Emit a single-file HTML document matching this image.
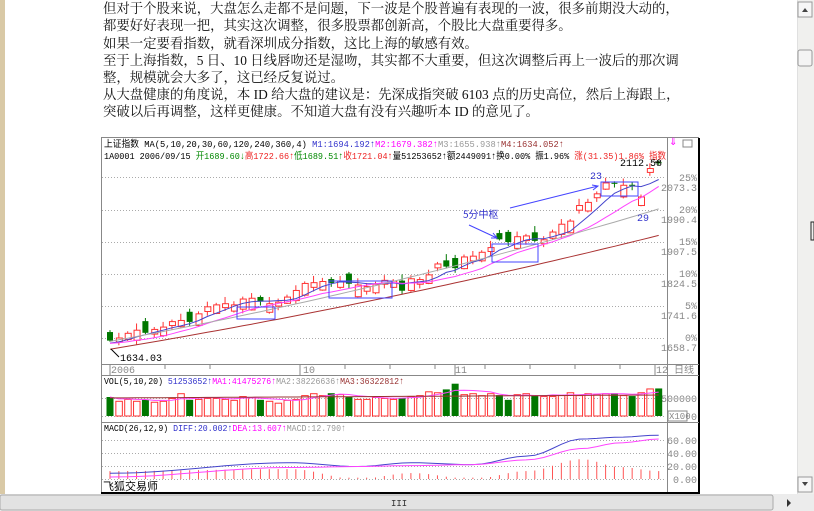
<!DOCTYPE html>
<html><head><meta charset="utf-8"><style>
html,body{margin:0;padding:0;width:814px;height:511px;overflow:hidden;background:#fff;position:relative}
#strip{position:absolute;left:0;top:0;width:5px;height:494px;background:#d9c9a6}
#txt{position:absolute;left:103px;top:-17px;font-family:"Liberation Serif","Noto Serif CJK SC","Noto Sans CJK SC",serif;font-size:13.4px;line-height:17.2px;color:#111;white-space:nowrap}
#vs{position:absolute;left:797px;top:0;width:17px;height:494px;background:#f0f0ee;border-left:1px solid #e0e0e0}
#hs{position:absolute;left:0;top:494px;width:814px;height:17px;background:#ececec}
svg{position:absolute;left:0;top:0}
</style></head><body>
<div id="strip"></div>
<div id="txt">
<div>这样的调整一样可以接受，就是当作一个正常的调整来看待，这一点也不奇怪。</div>
<div>但对于个股来说，大盘怎么走都不是问题，下一波是个股普遍有表现的一波，很多前期没大动的，</div>
<div>都要好好表现一把，其实这次调整，很多股票都创新高，个股比大盘重要得多。</div>
<div>如果一定要看指数，就看深圳成分指数，这比上海的敏感有效。</div>
<div>至于上海指数，5 日、10 日线唇吻还是湿吻，其实都不大重要，但这次调整后再上一波后的那次调</div>
<div>整，规模就会大多了，这已经反复说过。</div>
<div>从大盘健康的角度说，本 ID 给大盘的建议是：先深成指突破 6103 点的历史高位，然后上海跟上，</div>
<div>突破以后再调整，这样更健康。不知道大盘有没有兴趣听本 ID 的意见了。</div>
</div>
<div id="vs"></div>
<div id="hs"></div>
<svg id="s" width="814" height="511" xmlns="http://www.w3.org/2000/svg" font-family="'Liberation Mono','Noto Sans CJK SC',monospace" font-size="10">
<rect x="798" y="2" width="14" height="15" fill="#f6f6f6" stroke="#999"/>
<path d="M802 12 L805 8 L808 12Z" fill="#444"/>
<rect x="798" y="50" width="14" height="16" fill="#f4f4f4" stroke="#999" rx="2"/>
<rect x="798" y="477" width="14" height="15" fill="#f6f6f6" stroke="#999"/>
<path d="M802 482 L805 486 L808 482Z" fill="#444"/>
<rect x="811" y="222" width="3" height="18" fill="none" stroke="#222"/>
<rect x="0" y="495" width="773" height="15" fill="#e2e2e2" stroke="#aaa" rx="2"/>
<text x="391" y="506" font-size="9" fill="#333">III</text>
<path d="M787 499 L791 503 L787 507Z" fill="#333"/>
<rect x="101.5" y="137.5" width="597" height="355" fill="#fff" stroke="#888"/>
<line x1="101" y1="493" x2="699" y2="493" stroke="#000" stroke-width="2"/>
<line x1="699" y1="138" x2="699" y2="494" stroke="#000" stroke-width="2"/>
<line x1="667.5" y1="138" x2="667.5" y2="492" stroke="#888"/>
<line x1="101" y1="364.5" x2="699" y2="364.5" stroke="#888"/>
<line x1="101" y1="375.5" x2="699" y2="375.5" stroke="#888"/>
<line x1="101" y1="422.5" x2="699" y2="422.5" stroke="#888"/>
<g id="grid" stroke="#aaa" stroke-dasharray="1,2"></g>
<text x="104" y="147" fill="#000" font-size="9.5" textLength="460" lengthAdjust="spacingAndGlyphs">上证指数 MA(5,10,20,30,60,120,240,360,4) <tspan fill="#33c">M1:1694.192↑</tspan><tspan fill="#f0f">M2:1679.382↑</tspan><tspan fill="#999">M3:1655.938↑</tspan><tspan fill="#933">M4:1634.052↑</tspan></text>
<text x="104" y="159" fill="#000" font-size="9.5" textLength="562" lengthAdjust="spacingAndGlyphs">1A0001 2006/09/15 <tspan fill="#080">开1689.60↓</tspan><tspan fill="#e22">高1722.66↑</tspan><tspan fill="#080">低1689.51↑</tspan><tspan fill="#e22">收1721.04↑</tspan>量51253652↑额2449091↑换0.00% 振1.96% <tspan fill="#e22">涨(31.35)1.86% 指数</tspan></text>
<text x="669" y="145" fill="#f0f">⇓</text><rect x="683" y="140" width="9" height="7" fill="none" stroke="#888"/>
<g fill="#888" text-anchor="end" font-size="10">
<text x="697" y="181">25%</text><text x="697" y="191">2073.3</text>
<text x="697" y="213">20%</text><text x="697" y="223">1990.4</text>
<text x="697" y="245">15%</text><text x="697" y="255">1907.5</text>
<text x="697" y="277">10%</text><text x="697" y="287">1824.5</text>
<text x="697" y="309">5%</text><text x="697" y="319">1741.6</text>
<text x="697" y="341">0%</text><text x="697" y="351">1658.7</text>
<text x="697" y="402">500000</text><text x="697" y="420">0</text>
<text x="697" y="444">60.00</text><text x="697" y="457">40.00</text><text x="697" y="470">20.00</text><text x="697" y="483">0.00</text>
</g>
<rect x="668" y="411" width="19" height="10" fill="none" stroke="#888"/>
<text x="669" y="419" fill="#888" font-size="9">X100</text>
<g fill="#888" font-size="10"><text x="111" y="373">2006</text><text x="303" y="373">10</text><text x="455" y="373">11</text><text x="656" y="373">12</text><text x="674" y="373">日线</text></g>
<g stroke="#888"><line x1="110" y1="365" x2="110" y2="375"/><line x1="165" y1="365" x2="165" y2="369"/><line x1="210" y1="365" x2="210" y2="369"/><line x1="300" y1="365" x2="300" y2="375"/><line x1="345" y1="365" x2="345" y2="369"/><line x1="390" y1="365" x2="390" y2="369"/><line x1="435" y1="365" x2="435" y2="369"/><line x1="455" y1="365" x2="455" y2="375"/><line x1="485" y1="365" x2="485" y2="369"/><line x1="530" y1="365" x2="530" y2="369"/><line x1="575" y1="365" x2="575" y2="369"/><line x1="620" y1="365" x2="620" y2="369"/><line x1="655" y1="365" x2="655" y2="375"/></g>
<text x="104" y="384" fill="#000" font-size="9.5" textLength="300" lengthAdjust="spacingAndGlyphs">VOL(5,10,20) <tspan fill="#33c">51253652↑</tspan><tspan fill="#f0f">MA1:41475276↑</tspan><tspan fill="#999">MA2:38226636↑</tspan><tspan fill="#933">MA3:36322812↑</tspan></text>
<text x="104" y="431" fill="#000" font-size="9.5" textLength="242" lengthAdjust="spacingAndGlyphs">MACD(26,12,9) <tspan fill="#33c">DIFF:20.002↑</tspan><tspan fill="#f0f">DEA:13.607↑</tspan><tspan fill="#999">MACD:12.790↑</tspan></text>
<g id="plot"></g>
<text x="103" y="490" fill="#000" font-size="11" font-family="'Noto Sans CJK SC',sans-serif">飞狐交易师</text>
<g fill="none" stroke="#44f">
<rect x="237" y="307" width="38" height="12"/>
<rect x="329" y="281" width="63" height="17"/>
<rect x="492" y="244" width="46" height="18"/>
<rect x="601" y="182" width="37" height="14"/>
<path d="M469 225 L497 238 M491 238 L497 238 L493 233"/>
<path d="M510 208 L598 186 M592 185 L598 186 L593 190"/>
</g>
<text x="463" y="218" fill="#33c" font-size="10" font-family="'Noto Sans CJK SC',sans-serif">5分中枢</text>
<text x="590" y="179" fill="#33c">23</text>
<text x="637" y="221" fill="#33c">29</text>
<text x="620" y="166" fill="#000">2112.58</text>
<line x1="655" y1="162" x2="660" y2="162" stroke="#000"/>
<text x="120" y="361" fill="#000">1634.03</text>
<line x1="111" y1="349" x2="119" y2="357" stroke="#000"/>
</svg>
<script>
var NS="http://www.w3.org/2000/svg";
function el(t,a,p){var e=document.createElementNS(NS,t);for(var k in a)e.setAttribute(k,a[k]);(p||document.getElementById('plot')).appendChild(e);return e;}
var g=document.getElementById('grid');
[177,210,242,274,306,338].forEach(function(y){el('line',{x1:102,y1:y+.5,x2:666,y2:y+.5},g)});
[398,416].forEach(function(y){el('line',{x1:102,y1:y+.5,x2:666,y2:y+.5},g)});
[440,453,466,479].forEach(function(y){el('line',{x1:102,y1:y+.5,x2:666,y2:y+.5},g)});
function Y(p){return 338-(p-1658.7)*0.3896;}
var C=[1652,1660,1672,1680,1672,1682,1688,1702,1705,1700,1722,1740,1745,1748,1745,1760,1762,1752,1748,1752,1765,1782,1800,1802,1805,1800,1806,1798,1796,1792,1798,1808,1806,1780,1812,1810,1822,1850,1842,1838,1868,1870,1880,1892,1912,1905,1920,1922,1908,1912,1932,1952,1960,2000,2008,2030,2058,2055,2052,2050,2022,2095,2108];
var G={0:1,4:1,9:1,17:1,25:1,27:1,33:1,38:1,39:1,44:1,45:1,48:1,57:1,59:1,62:1};
var N=C.length,dx=8.85,x0=110;
var V=[20,16,18,16,17,15,16,19,24,17,18,19,19,18,17,21,20,17,16,14,17,18,22,24,22,24,23,20,18,18,20,19,18,19,21,22,26,25,28,34,23,24,22,24,22,17,23,24,22,21,21,22,25,22,24,23,24,24,22,21,25,29,29];
for(var i=0;i<N;i++){
 var x=x0+i*dx,c=C[i],gr=G[i],o;
 var body=[22,10,16,26,30,12][i%6];
 if(i==57||i==59||i==62){o=c+2;} else o=gr?c+body:c-body;
 var hi=Math.max(o,c)+[5,12,4,16,8][i%5],lo=Math.min(o,c)-[3,10,5,12][i%4];
 var col=gr?'#070':'#f33';
 el('line',{x1:x,y1:Y(hi),x2:x,y2:Y(lo),stroke:col});
 var yt=Y(Math.max(o,c)),yb=Y(Math.min(o,c));var h=Math.max(1,yb-yt);
 if(gr)el('rect',{x:x-3,y:yt,width:6,height:h,fill:col});
 else el('rect',{x:x-2.5,y:yt+.5,width:6,height:h,fill:'#fff',stroke:col});
 var vh=V[i]*0.95;
 if(gr)el('rect',{x:x-3.5,y:416-vh,width:7,height:vh,fill:'#070'});
 else el('rect',{x:x-3,y:416-vh+.5,width:6.5,height:vh-.5,fill:'none',stroke:'#f33'});
}
function ma(n){var r=[];for(var i=0;i<N;i++){var s=0,k=0;for(var j=Math.max(0,i-n+1);j<=i;j++){s+=C[j];k++;}var pad=n-k;s+=pad*(C[0]-8);r.push(s/n);}return r;}
function pl(arr,col,fn){var d='';arr.forEach(function(v,i){d+=(i?'L':'M')+(x0+i*dx).toFixed(1)+' '+fn(v).toFixed(1)});el('path',{d:d,fill:'none',stroke:col});}
pl(ma(5),'#44c',Y);pl(ma(10),'#f4f',Y);
var g30=[],b60=[];for(var i=0;i<N;i++){var t=i/(N-1);g30.push(1650+(1990-1650)*(0.75*t+0.25*t*t));b60.push(1630+(1922-1630)*(0.8*t+0.2*t*t));}
pl(g30,'#aaa',Y);pl(b60,'#a33',Y);
var vm=V.map(function(v,i){var s=0,k=0;for(var j=Math.max(0,i-4);j<=i;j++){s+=V[j];k++;}return s/k;});
pl(vm,'#f4f',function(v){return 416-v*0.95});
pl(V.map(function(v,i){return 19+i*0.05}),'#933',function(v){return 416-v*0.95});
// MACD
function interp(pts,t){for(var k=1;k<pts.length;k++){if(t<=pts[k][0]){var a=pts[k-1],b=pts[k];var u=(t-a[0])/(b[0]-a[0]);u=(1-Math.cos(u*Math.PI))/2;return a[1]+(b[1]-a[1])*u;}}return pts[pts.length-1][1];}
var DP=[[0,4],[0.33,15],[0.45,11],[0.55,15],[0.66,13],[0.76,22],[0.86,40],[0.93,42],[1,44]];
var EP=[[0,0],[0.33,10],[0.45,11],[0.55,12],[0.66,13],[0.76,18],[0.86,30],[0.93,36],[1,40]];
var MY=function(v){return 477-v*0.95};
for(var i=0;i<N;i++){var x=x0+i*dx,t=i/(N-1);var d=interp(DP,t),e=interp(EP,t);var m=(d-e)*2.2;if(Math.abs(m)<1.5)m=1.5;
 el('line',{x1:x,y1:479,x2:x,y2:479-m*0.9,stroke:(i==77)?'#070':'#f55'});}
var dd=[],ee=[];for(var i=0;i<N;i++){var t=i/(N-1);dd.push(interp(DP,t));ee.push(interp(EP,t));}
pl(dd,'#44c',MY);pl(ee,'#f4f',MY);
</script>
</body></html>
